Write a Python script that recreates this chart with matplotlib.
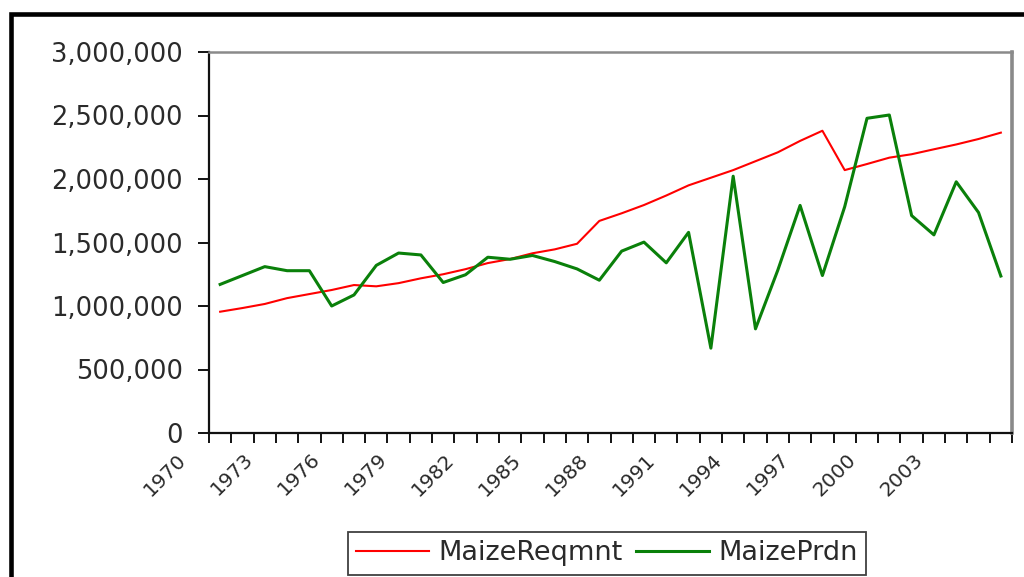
import matplotlib
matplotlib.use("Agg")
import matplotlib.pyplot as plt
from matplotlib.ticker import FuncFormatter, FixedLocator
from matplotlib.lines import Line2D
import matplotlib.transforms as mtransforms

years = list(range(1970, 2006))
maize_reqmnt = [955000, 984000, 1016000, 1062000, 1094000, 1126000, 1165000, 1155000,
                1180000, 1218000, 1250000, 1290000, 1338000, 1370000, 1415000, 1446000,
                1490000, 1670000, 1730000, 1795000, 1870000, 1950000, 2010000, 2070000,
                2140000, 2210000, 2300000, 2380000, 2070000, 2118000, 2168000, 2195000,
                2234000, 2272000, 2315000, 2365000]
maize_prdn = [1170000, 1240000, 1310000, 1278000, 1278000, 1000000, 1087000, 1320000,
              1417000, 1402000, 1185000, 1246000, 1384000, 1368000, 1398000, 1350000,
              1292000, 1203000, 1432000, 1503000, 1340000, 1580000, 668000, 2022000,
              820000, 1282000, 1792000, 1240000, 1782000, 2478000, 2504000, 1712000,
              1560000, 1978000, 1736000, 1236000]
tick_years = list(range(1970, 2004, 3))
y_ticks = [0, 500000, 1000000, 1500000, 2000000, 2500000, 3000000]

W, H = 1024, 577
fig = plt.figure(figsize=(W / 100, H / 100), dpi=100)
plt.rcParams['font.family'] = ['DejaVu Sans']

ax = fig.add_axes([209 / W, 1 - 433 / H, (1012 - 209) / W, (433 - 52) / H])
x = list(range(len(years)))
ax.plot(x, maize_reqmnt, color='#ff0000', lw=1.5, label='MaizeReqmnt')
ax.plot(x, maize_prdn, color='#0a800a', lw=2.2, label='MaizePrdn')

ax.set_xlim(-0.5, len(years) - 0.5)
ax.set_ylim(0, 3000000)
ax.set_yticks(y_ticks)
ax.yaxis.set_major_formatter(FuncFormatter(lambda v, p: f"{int(v):,}"))
ax.tick_params(axis='y', direction='out', length=8, width=1.3, pad=11,
               labelsize=18.5, labelcolor='#2a2a2a')

pos = [years.index(yv) for yv in tick_years]
ax.set_xticks(pos)
ax.set_xticklabels([str(yv) for yv in tick_years], rotation=45, ha='right', va='top')
ax.tick_params(axis='x', which='major', length=0, pad=12, labelsize=14.5,
               labelcolor='#2a2a2a')
ax.xaxis.set_minor_locator(FixedLocator([i - 0.5 for i in range(len(years) + 1)]))
ax.tick_params(axis='x', which='minor', direction='out', length=7, width=1.3)
offset = mtransforms.ScaledTranslation(-30 / 100, 0, fig.dpi_scale_trans)
for lbl in ax.get_xticklabels():
    lbl.set_transform(lbl.get_transform() + offset)

for s in ['left', 'bottom']:
    ax.spines[s].set_color('#111111')
    ax.spines[s].set_linewidth(1.6)
ax.spines['top'].set_color('#8a8a8a')
ax.spines['top'].set_linewidth(1.8)
ax.spines['right'].set_color('#8a8a8a')
ax.spines['right'].set_linewidth(2.6)

leg = fig.legend(loc='center', bbox_to_anchor=(607 / W, 1 - 553.5 / H), ncol=2,
                 fontsize=19.5, frameon=True, fancybox=False, edgecolor='#111111',
                 handlelength=2.7, handletextpad=0.35, columnspacing=0.5,
                 borderpad=0.3)
leg.get_frame().set_linewidth(1.3)
for t in leg.get_texts():
    t.set_color('#2a2a2a')

# outer frame
fig.add_artist(Line2D([11 / W, 11 / W, 1.02], [-0.02, 1 - 14 / H, 1 - 14 / H],
                      transform=fig.transFigure, color='black', lw=3.3,
                      solid_joinstyle='miter'))

fig.savefig('out.png', dpi=100)
